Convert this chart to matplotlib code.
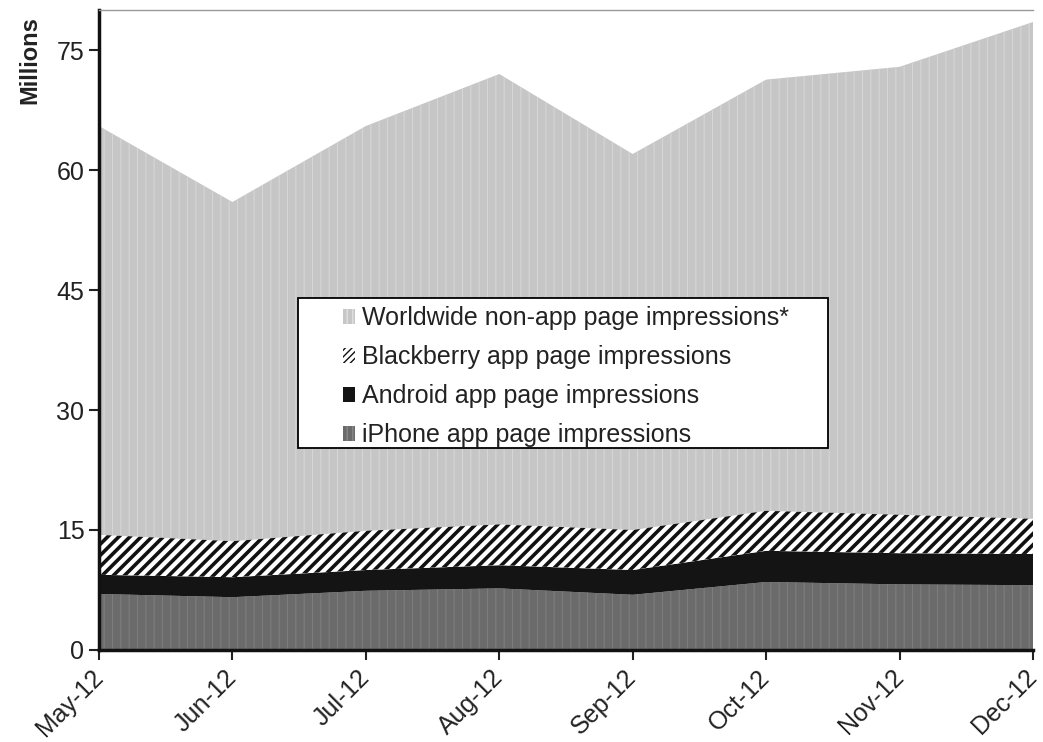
import matplotlib
matplotlib.use("Agg")
import matplotlib.pyplot as plt
import matplotlib.patches as mpatches
import numpy as np

months = ["May-12", "Jun-12", "Jul-12", "Aug-12", "Sep-12", "Oct-12", "Nov-12", "Dec-12"]

# millions of page impressions
iphone = [7.0, 6.6, 7.4, 7.7, 6.9, 8.5, 8.2, 8.1]
android = [2.4, 2.5, 2.6, 2.9, 3.1, 3.9, 3.9, 3.9]
blackberry = [5.0, 4.5, 4.9, 5.1, 5.0, 5.0, 4.8, 4.4]
non_app = [51.1, 42.4, 50.6, 56.3, 47.0, 53.9, 56.0, 62.1]

labels = ["iPhone app page impressions",
          "Android app page impressions",
          "Blackberry app page impressions",
          "Worldwide non-app page impressions*"]

plt.rcParams["font.family"] = ["Liberation Sans", "DejaVu Sans"]

fig = plt.figure(figsize=(10.43, 7.42), dpi=100)
ax = fig.add_axes([0.0949, 0.124, 0.8955, 0.8625])

x = np.arange(len(months))
series = [iphone, android, blackberry, non_app]
faces = ["#6b6b6b", "#141414", "white", "#c6c6c6"]
bottom = np.zeros(len(x))
polys = []
for vals, fc in zip(series, faces):
    top = bottom + np.array(vals)
    ax.fill_between(x, bottom, top, facecolor=fc, linewidth=0)
    polys.append((bottom.copy(), top.copy()))
    bottom = top

# textures
with plt.rc_context({"hatch.linewidth": 0.8}):
    ax.fill_between(x, *polys[0], facecolor="none", edgecolor="#7d7d7d",
                    hatch="||", linewidth=0)
    ax.fill_between(x, *polys[3], facecolor="none", edgecolor="#d6d6d6",
                    hatch="||", linewidth=0)
with plt.rc_context({"hatch.linewidth": 2.6}):
    ax.fill_between(x, *polys[2], facecolor="none", edgecolor="#111111",
                    hatch="///", linewidth=0)

ax.set_xlim(0, len(x) - 1)
ax.set_ylim(0, 80)
ax.set_yticks([0, 15, 30, 45, 60, 75])
ax.set_xticks(x)
ax.set_xticklabels(months, rotation=45, ha="right", va="center",
                   rotation_mode="anchor")
ax.tick_params(axis="both", direction="out", length=7, width=1.5,
               labelsize=18, colors="#222222")
ax.tick_params(axis="x", pad=10)

for s in ["left", "bottom"]:
    ax.spines[s].set_linewidth(2.5)
    ax.spines[s].set_color("#111111")
ax.spines["right"].set_visible(False)
ax.spines["top"].set_color("#999999")
ax.spines["top"].set_linewidth(1)

fig.text(0.029, 0.978, "Millions", rotation=90, ha="center", va="top",
         fontsize=17, fontweight="bold", color="#222222")

# legend box
ax.add_patch(mpatches.Rectangle((0.213, 0.316), 0.567, 0.234,
                                transform=ax.transAxes, facecolor="white",
                                edgecolor="black", linewidth=1.3, zorder=5))

with plt.rc_context({"hatch.linewidth": 1.5}):
    handles = [
        mpatches.Patch(facecolor="#c6c6c6", edgecolor="#e0e0e0", hatch="|||", linewidth=0),
        mpatches.Patch(facecolor="white", edgecolor="#111111", hatch="/////", linewidth=0),
        mpatches.Patch(facecolor="#141414", linewidth=0),
        mpatches.Patch(facecolor="#6b6b6b", edgecolor="#888888", hatch="|||", linewidth=0),
    ]
leg = ax.legend(handles, labels[::-1], loc="upper left",
                bbox_to_anchor=(0.261, 0.537), fontsize=18, frameon=False,
                handlelength=0.5, handleheight=0.5, handletextpad=0.25,
                labelspacing=0.6, borderpad=0, borderaxespad=0)
leg.set_zorder(6)
for t in leg.get_texts():
    t.set_color("#222222")

fig.savefig("out.png", dpi=100)
